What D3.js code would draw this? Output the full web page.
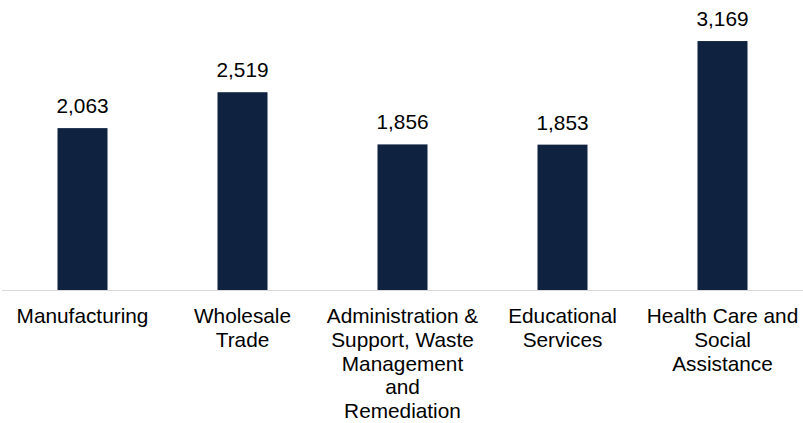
<!DOCTYPE html>
<html>
<head>
<meta charset="utf-8">
<script src="https://cdn.jsdelivr.net/npm/d3@7"></script>
<style>
  html, body { margin: 0; padding: 0; background: #ffffff; }
  svg { display: block; font-family: "Liberation Sans", Arial, sans-serif; }
</style>
</head>
<body>
<svg id="chart" width="803" height="423"></svg>
<script>
// Employment by industry
const categories = [
  "Manufacturing",
  "Wholesale Trade",
  "Administration & Support, Waste Management and Remediation",
  "Educational Services",
  "Health Care and Social Assistance"
];
const values = [2063, 2519, 1856, 1853, 3169];

const width = 803, height = 423;
const baseline = 290.5;
const fontSize = 20.8;
const lineHeight = 23.8;
const wrapWidth = 154;

const svg = d3.select("#chart");

const x = d3.scaleBand()
  .domain(categories)
  .range([2.5, 802.5])
  .paddingInner(0.6875)
  .paddingOuter(0.34375);

const y = d3.scaleLinear()
  .domain([0, 3500])
  .range([baseline, 15]);

const data = categories.map((c, i) => ({ category: c, value: values[i] }));

// Bars
svg.append("g")
  .selectAll("rect")
  .data(data)
  .join("rect")
  .attr("x", d => x(d.category))
  .attr("y", d => y(d.value))
  .attr("width", x.bandwidth())
  .attr("height", d => y(0) - y(d.value))
  .attr("fill", "#0f2340");

// Baseline axis
const axis = svg.append("g")
  .attr("transform", `translate(0,${baseline})`)
  .call(d3.axisBottom(x).tickSize(0).tickFormat(""));
axis.select(".domain")
  .attr("d", "M2,0H803")
  .attr("stroke", "#d9d9d9")
  .attr("stroke-width", 1.2);

// Value labels
const fmt = d3.format(",");
svg.append("g")
  .selectAll("text")
  .data(data)
  .join("text")
  .attr("x", d => x(d.category) + x.bandwidth() / 2)
  .attr("y", d => y(d.value) - 15)
  .attr("text-anchor", "middle")
  .attr("font-size", fontSize)
  .attr("fill", "#000")
  .text(d => fmt(d.value));

// Category labels, wrapped to the available width
const measure = svg.append("text").attr("font-size", fontSize).attr("visibility", "hidden");
function wrap(label) {
  const words = label.split(" ");
  const lines = [];
  let line = [];
  for (const w of words) {
    const trial = line.concat(w).join(" ");
    measure.text(trial);
    if (line.length && measure.node().getComputedTextLength() > wrapWidth) {
      lines.push(line.join(" "));
      line = [w];
    } else {
      line.push(w);
    }
  }
  if (line.length) lines.push(line.join(" "));
  return lines;
}

const labels = svg.append("g")
  .selectAll("text")
  .data(data)
  .join("text")
  .attr("x", d => x(d.category) + x.bandwidth() / 2)
  .attr("y", 323)
  .attr("text-anchor", "middle")
  .attr("font-size", fontSize)
  .attr("fill", "#000");

labels.each(function(d) {
  const t = d3.select(this);
  wrap(d.category).forEach((ln, i) => {
    t.append("tspan")
      .attr("x", x(d.category) + x.bandwidth() / 2)
      .attr("dy", i === 0 ? 0 : lineHeight)
      .text(ln);
  });
});
measure.remove();
</script>
</body>
</html>
